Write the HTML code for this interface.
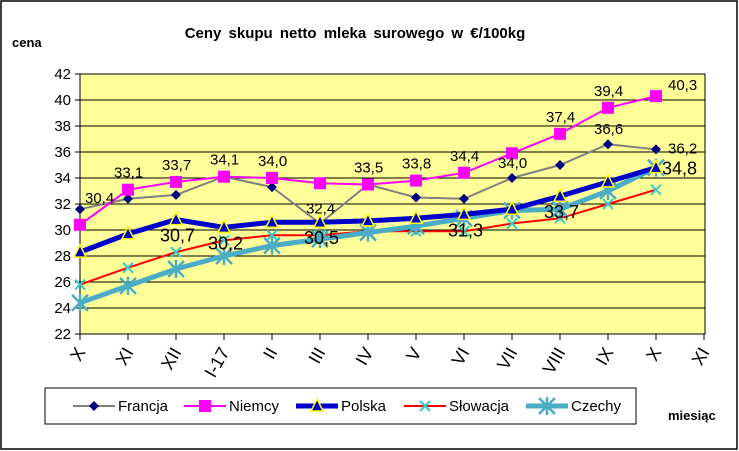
<!DOCTYPE html>
<html><head><meta charset="utf-8"><style>
body{margin:0;background:#fff;}
#wrap{position:relative;width:739px;height:451px;overflow:hidden;font-family:"Liberation Sans",sans-serif;}
</style></head><body>
<div id="wrap">
<svg id="chart" width="739" height="451" xmlns="http://www.w3.org/2000/svg">
<rect x="1" y="1" width="736" height="448" fill="#fff" stroke="#000" stroke-width="1.5"/>
<text x="355" y="38" text-anchor="middle" font-size="15" font-weight="bold" word-spacing="3">Ceny skupu netto mleka  surowego   w €/100kg</text>
<text x="12" y="47" font-size="13" font-weight="bold">cena</text>
<text x="668" y="420" font-size="13" font-weight="bold">miesiąc</text>
<rect x="80" y="74" width="625" height="260" fill="#FFFF99" stroke="#000"/>
<g id="grid"></g><g id="axes"></g><g id="series"></g><g id="labels"></g>
<g>
<rect x="45" y="388" width="591" height="36" fill="#fff" stroke="#000"/>
<g id="legend"></g>
</g>
</svg>
</div>
<script>
const categories=["X","XI","XII","I-17","II","III","IV","V","VI","VII","VIII","IX","X","XI"];
const yTicks=[22,24,26,28,30,32,34,36,38,40,42];
const francja=[31.6,32.4,32.7,34.1,33.3,30.5,33.5,32.5,32.4,34.0,35.0,36.6,36.2];
const niemcy=[30.4,33.1,33.7,34.1,34.0,33.6,33.5,33.8,34.4,35.9,37.4,39.4,40.3];
const polska=[28.3,29.7,30.8,30.2,30.6,30.6,30.7,30.9,31.2,31.6,32.6,33.7,34.8];
const slowacja=[25.8,27.1,28.3,29.2,29.6,29.6,29.9,29.9,29.9,30.5,30.9,32.0,33.1];
const czechy=[24.4,25.7,27.0,28.0,28.8,29.3,29.8,30.3,30.9,31.5,31.6,33.0,34.8];
const niemcyLabels=["30,4","33,1","33,7","34,1","34,0","","33,5","33,8","34,4","","37,4","39,4","40,3"];
const francjaLabels=["","","","","","32,4","","","","34,0","","36,6","36,2"];
const bigLabels=[[2,"30,7"],[3,"30,2"],[5,"30,5"],[8,"31,3"],[10,"33,7"],[12,"34,8"]];
const NS="http://www.w3.org/2000/svg";
const X0=80,DX=48,Y0=334,YMIN=22,YMAX=42,H=260;
const xs=i=>X0+i*DX, ys=v=>Y0-(v-YMIN)/(YMAX-YMIN)*H;
function mk(t,a,p){const e=document.createElementNS(NS,t);for(const k in a)e.setAttribute(k,a[k]);p.appendChild(e);return e;}
const grid=document.getElementById('grid'),axes=document.getElementById('axes'),ser=document.getElementById('series'),lab=document.getElementById('labels'),leg=document.getElementById('legend');
yTicks.forEach(v=>{
 if(v>YMIN&&v<YMAX){const l=mk('line',{x1:X0,x2:705,y1:ys(v),y2:ys(v),stroke:'#000','stroke-width':1},grid);
 
 }
 mk('line',{x1:X0-5,x2:X0,y1:ys(v),y2:ys(v),stroke:'#000'},axes);
 const t=mk('text',{x:X0-9,y:ys(v)+5,'text-anchor':'end','font-size':15},axes);t.textContent=v;
 
 
});
categories.forEach((c,i)=>{
 mk('line',{x1:xs(i),x2:xs(i),y1:Y0,y2:Y0+6,stroke:'#000'},axes);
 const t=mk('text',{x:0,y:0,'text-anchor':'end','font-size':18,transform:`translate(${xs(i)+6},${Y0+18}) rotate(-60)`},axes);t.textContent=c;
 
 
});
function marker(type,x,y,p){
 if(type==='diamond')mk('path',{d:`M${x},${y-5}L${x+5},${y}L${x},${y+5}L${x-5},${y}Z`,fill:'#000080'},p);
 else if(type==='square')mk('rect',{x:x-6,y:y-6,width:12,height:12,fill:'#FF00FF'},p);
 else if(type==='tri')mk('path',{d:`M${x},${y-7}L${x+6},${y+5}L${x-6},${y+5}Z`,fill:'#0000CC',stroke:'#FFFF00','stroke-width':1.5},p);
 else if(type==='x')mk('path',{d:`M${x-5},${y-5}L${x+5},${y+5}M${x+5},${y-5}L${x-5},${y+5}`,stroke:'#33CCCC','stroke-width':2},p);
 else if(type==='star')mk('path',{d:`M${x-8},${y-8}L${x+8},${y+8}M${x+8},${y-8}L${x-8},${y+8}M${x},${y-9}L${x},${y+9}`,stroke:'#4BACC6','stroke-width':2.5},p);
}
const defs=[
 {name:'Francja',data:francja,color:'#808080',w:2,m:'diamond'},
 {name:'Niemcy',data:niemcy,color:'#FF00FF',w:2,m:'square'},
 {name:'Słowacja',data:slowacja,color:'#FF0000',w:2,m:'x'},
 {name:'Czechy',data:czechy,color:'#4BACC6',w:5,m:'star'},
 {name:'Polska',data:polska,color:'#0000CC',w:5,m:'tri'}
];
defs.forEach(s=>{
 const g=mk('g',{},ser);
 
 
 mk('polyline',{points:s.data.map((v,i)=>xs(i)+','+ys(v)).join(' '),fill:'none',stroke:s.color,'stroke-width':s.w},g);
 s.data.forEach((v,i)=>marker(s.m,xs(i),ys(v),g));
});
function lbl(x,y,txt,fs){const t=mk('text',{x:x,y:y,'font-size':fs,fill:'#000'},lab);t.textContent=txt;
 
 }
niemcyLabels.forEach((t,i)=>{if(t){const dx=i===0?5:(i===12?12:-14);const dy=i===0?-22:(i===12?-6:-12);lbl(xs(i)+dx,ys(niemcy[i])+dy,t,15);}});
francjaLabels.forEach((t,i)=>{if(t){const dx=i===12?12:-14;lbl(xs(i)+dx,ys(francja[i])-10+(i===12?14:0),t,15);}});
bigLabels.forEach(([i,t])=>{lbl(xs(i)+(i===12?6:-16),ys(polska[i])+(i===12?7:22),t,18);});
const lx=[73,184,296,404,526];
const legOrder=[0,1,4,2,3];
legOrder.forEach((k,j)=>{
 const s=defs[k];const g=mk('g',{},leg);
 
 
 const x=lx[j],y=406;
 mk('line',{x1:x,x2:x+42,y1:y,y2:y,stroke:s.color,'stroke-width':s.w},g);
 marker(s.m,x+21,y,g);
 const t=mk('text',{x:x+45,y:y+5,'font-size':15},g);t.textContent=s.name;
});
</script>
</body></html>
